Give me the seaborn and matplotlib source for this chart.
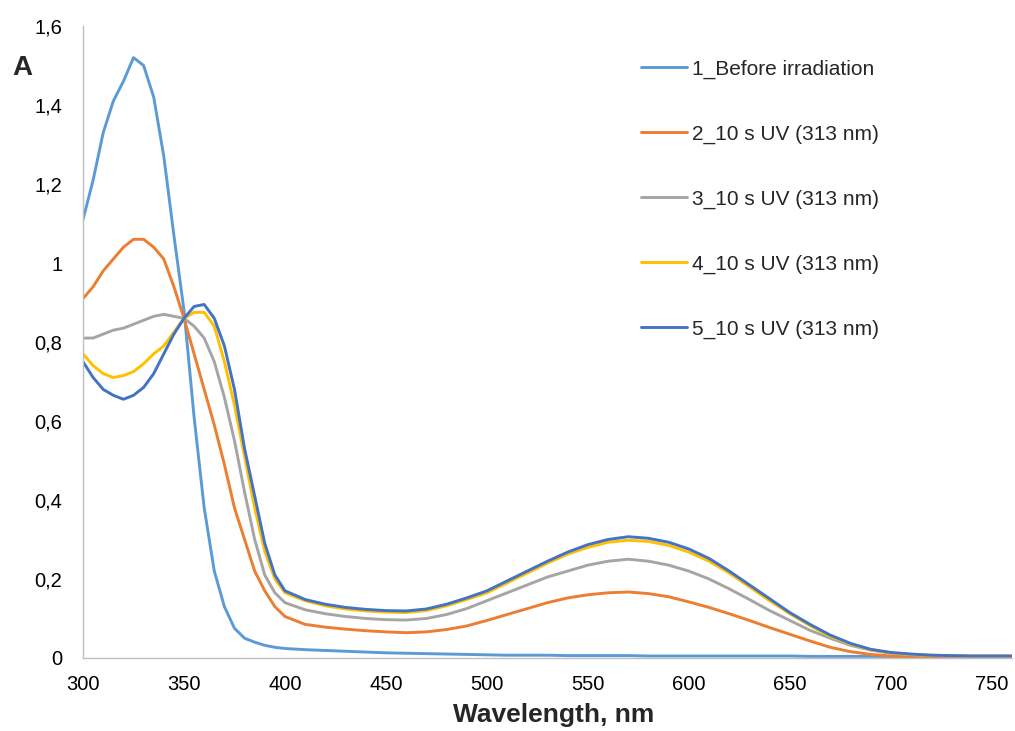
import numpy as np
import pandas as pd
import seaborn as sns
import matplotlib.pyplot as plt
from matplotlib.ticker import FuncFormatter, MultipleLocator

wavelength = [300, 305, 310, 315, 320, 325, 330, 335, 340, 345, 350, 355, 360, 365, 370,
              375, 380, 385, 390, 395, 400, 410, 420, 430, 440, 450, 460, 470, 480, 490,
              500, 510, 520, 530, 540, 550, 560, 570, 580, 590, 600, 610, 620, 630, 640,
              650, 660, 670, 680, 690, 700, 710, 720, 730, 740, 750, 760]

before = [1.11, 1.21, 1.33, 1.41, 1.46, 1.52, 1.50, 1.42, 1.27, 1.07, 0.88, 0.61, 0.38, 0.22, 0.13,
          0.075, 0.05, 0.04, 0.032, 0.027, 0.024, 0.021, 0.019, 0.017, 0.015, 0.013, 0.012, 0.011, 0.010, 0.009,
          0.008, 0.007, 0.007, 0.007, 0.006, 0.006, 0.006, 0.006, 0.005, 0.005, 0.005, 0.005, 0.005, 0.005, 0.005,
          0.005, 0.004, 0.004, 0.004, 0.004, 0.004, 0.004, 0.004, 0.004, 0.004, 0.004, 0.004]

uv_2 = [0.91, 0.94, 0.98, 1.01, 1.04, 1.06, 1.06, 1.04, 1.01, 0.94, 0.86, 0.77, 0.68, 0.59, 0.49,
        0.38, 0.30, 0.22, 0.17, 0.13, 0.105, 0.085, 0.078, 0.073, 0.069, 0.066, 0.064, 0.066, 0.072, 0.081,
        0.095, 0.11, 0.125, 0.14, 0.152, 0.16, 0.165, 0.167, 0.163, 0.155, 0.142, 0.128, 0.112, 0.095, 0.077,
        0.06, 0.043, 0.027, 0.016, 0.009, 0.005, 0.003, 0.002, 0.002, 0.002, 0.002, 0.002]

uv_3 = [0.81, 0.81, 0.82, 0.83, 0.835, 0.845, 0.855, 0.865, 0.87, 0.865, 0.86, 0.84, 0.81, 0.75, 0.66,
        0.55, 0.42, 0.30, 0.21, 0.165, 0.14, 0.122, 0.112, 0.105, 0.100, 0.097, 0.096, 0.10, 0.11, 0.125,
        0.145, 0.165, 0.185, 0.205, 0.22, 0.235, 0.245, 0.25, 0.245, 0.235, 0.22, 0.20, 0.175, 0.148, 0.12,
        0.095, 0.07, 0.05, 0.032, 0.02, 0.012, 0.008, 0.006, 0.005, 0.004, 0.004, 0.004]

uv_4 = [0.77, 0.74, 0.72, 0.71, 0.715, 0.725, 0.745, 0.77, 0.79, 0.825, 0.86, 0.875, 0.875, 0.84, 0.75,
        0.64, 0.51, 0.38, 0.27, 0.20, 0.165, 0.145, 0.132, 0.124, 0.119, 0.116, 0.115, 0.12, 0.132, 0.148,
        0.165, 0.19, 0.215, 0.24, 0.263, 0.28, 0.293, 0.298, 0.295, 0.285, 0.268, 0.245, 0.215, 0.18, 0.145,
        0.112, 0.082, 0.055, 0.035, 0.021, 0.013, 0.009, 0.007, 0.006, 0.005, 0.005, 0.005]

uv_5 = [0.75, 0.71, 0.68, 0.665, 0.655, 0.665, 0.685, 0.72, 0.77, 0.82, 0.86, 0.89, 0.895, 0.86, 0.79,
        0.68, 0.53, 0.41, 0.29, 0.21, 0.17, 0.148, 0.136, 0.128, 0.123, 0.12, 0.119, 0.124, 0.136, 0.152,
        0.17, 0.195, 0.22, 0.245, 0.268, 0.287, 0.30, 0.307, 0.303, 0.293, 0.276, 0.252, 0.22, 0.185, 0.15,
        0.115, 0.085, 0.058, 0.037, 0.022, 0.014, 0.010, 0.007, 0.006, 0.005, 0.005, 0.005]

labels = ["1_Before irradiation", "2_10 s UV (313 nm)", "3_10 s UV (313 nm)",
          "4_10 s UV (313 nm)", "5_10 s UV (313 nm)"]
colors = ["#5B9BD5", "#ED7D31", "#A5A5A5", "#FFC000", "#4472C4"]

frames = []
for label, values in zip(labels, [before, uv_2, uv_3, uv_4, uv_5]):
    frames.append(pd.DataFrame({"wavelength": wavelength, "A": values, "series": label}))
df = pd.concat(frames, ignore_index=True)

sns.set_style("white")
plt.rcParams["font.family"] = ["Liberation Sans", "DejaVu Sans"]

fig = plt.figure(figsize=(10.15, 7.31), dpi=100)
ax = fig.add_axes([0.0818, 0.0999, 0.9152, 0.8645])

sns.lineplot(data=df, x="wavelength", y="A", hue="series", hue_order=labels,
             palette=colors, linewidth=2.1, ax=ax, estimator=None, sort=False)

ax.set_xlim(300, 760)
ax.set_ylim(0, 1.6)
ax.xaxis.set_major_locator(MultipleLocator(50))
ax.yaxis.set_major_locator(MultipleLocator(0.2))
ax.yaxis.set_major_formatter(FuncFormatter(lambda v, p: f"{round(v, 1):g}".replace(".", ",")))
ax.tick_params(axis="both", length=0, labelsize=14.5, colors="#000000")
ax.tick_params(axis="y", pad=15)
ax.tick_params(axis="x", pad=12)

for side in ["top", "right"]:
    ax.spines[side].set_visible(False)
for side in ["left", "bottom"]:
    ax.spines[side].set_color("#BFBFBF")
    ax.spines[side].set_linewidth(1)

ax.set_xlabel("Wavelength, nm", fontsize=19, fontweight="bold")
ax.xaxis.set_label_coords(0.507, -0.072)
ax.set_ylabel("")
fig.text(22 / 1015, 1 - 68 / 731, "A", fontsize=20, fontweight="bold", ha="center", va="center")

ax.legend(frameon=False, fontsize=15, handlelength=2.2, labelspacing=2.2,
          handletextpad=0.25, loc="upper left", bbox_to_anchor=(633 / 1015, 1 - 51 / 731),
          bbox_transform=fig.transFigure, borderaxespad=0)

fig.savefig("out.png", dpi=100, facecolor="white")
